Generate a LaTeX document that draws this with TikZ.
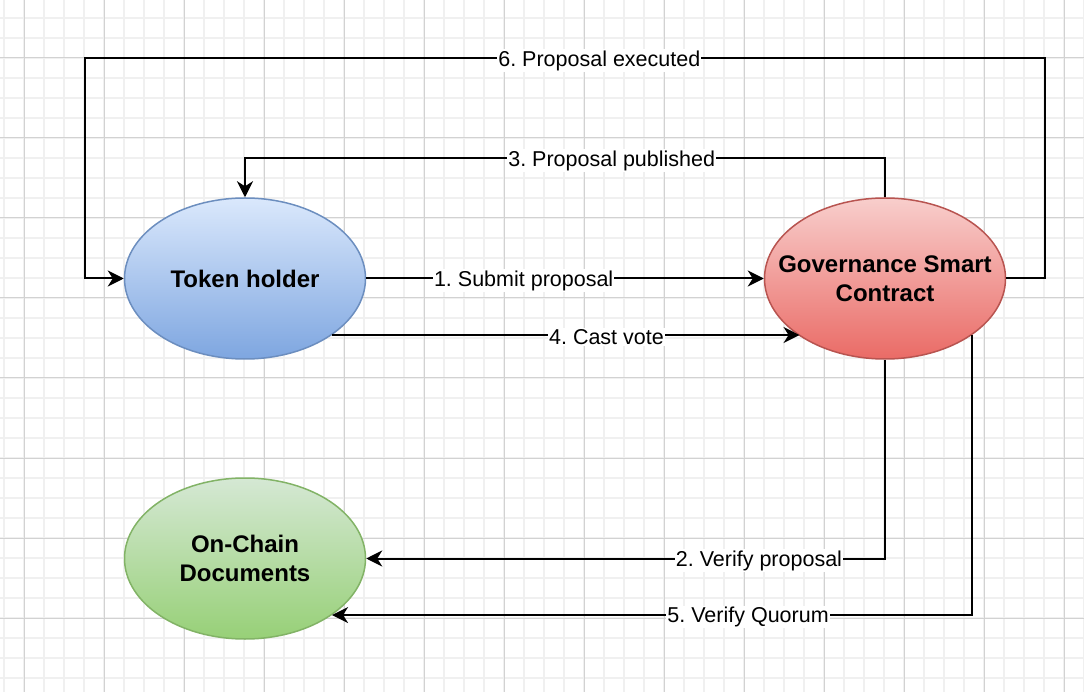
\documentclass[tikz,border=0pt]{standalone}
\usepackage{fontspec}
\setmainfont{Liberation Sans}
\usetikzlibrary{arrows.meta,calc,shapes.geometric}
\definecolor{gridminor}{RGB}{240,240,240}
\definecolor{gridmajor}{RGB}{210,210,210}
\definecolor{blueTop}{HTML}{DAE8FC}
\definecolor{blueBot}{HTML}{7EA6E0}
\definecolor{blueLine}{HTML}{6C8EBF}
\definecolor{redTop}{HTML}{F8CECC}
\definecolor{redBot}{HTML}{EA6B66}
\definecolor{redLine}{HTML}{B85450}
\definecolor{greenTop}{HTML}{D5E8D4}
\definecolor{greenBot}{HTML}{97D077}
\definecolor{greenLine}{HTML}{82B366}
\frenchspacing
\begin{document}
\begin{tikzpicture}[x=1pt,y=-1pt,
  actor/.style={ellipse, minimum width=241pt, minimum height=161pt, inner sep=0pt,
    inner xsep=-30pt,
    line width=1.5pt, font=\fontsize{24}{28.5}\selectfont\bfseries, align=center},
  conn/.style={line width=2pt, -{Stealth[length=16pt,width=16pt,inset=5pt]}},
  lbl/.style={fill=white, inner sep=1pt, yshift=-2pt, font=\fontsize{21.5}{25}\selectfont, text=black},
  minorline/.style={gridminor, line width=1.5pt},
  majorline/.style={gridmajor, line width=1pt}
]
\useasboundingbox[fill=white] (0,0) rectangle (1084,692);
% grid
\foreach \x in {4,24,...,1084} \draw[minorline] (\x,0) -- (\x,692);
\foreach \y in {-2,18,...,692} \draw[minorline] (0,\y) -- (1084,\y);
\foreach \x in {24,104,...,1084} \draw[majorline] (\x,0) -- (\x,692);
\foreach \y in {58,138,...,692} \draw[majorline] (0,\y) -- (1084,\y);

% nodes
\node[actor, draw=blueLine, top color=blueTop, bottom color=blueBot] (th) at (245,278.5) {Token holder};
\node[actor, draw=redLine, top color=redTop, bottom color=redBot] (gsc) at (885,278.5) {Governance Smart\\Contract};
\node[actor, draw=greenLine, top color=greenTop, bottom color=greenBot] (ocd) at (245,558.5) {On-Chain\\Documents};

% corner coordinates
\coordinate (c6a) at (1045,278.5);
\coordinate (c6b) at (1045,58.5);
\coordinate (c6c) at (84.5,58.5);
\coordinate (c6d) at (84.5,278.5);
\coordinate (c3a) at (885,158.5);
\coordinate (c3b) at (245,158.5);
\coordinate (c2a) at (885,558.5);
\coordinate (c4e) at (gsc.-146.6 |- th.-33.4);
\coordinate (c5a) at (gsc.-33.9 |- ocd.-33.4);

% connectors
\draw[conn] (gsc.east) -- (c6a) -- (c6b) -- node[lbl,pos=0.464]{6. Proposal executed} (c6c) -- (c6d) -- (th.west);
\draw[conn] (gsc.north) -- (c3a) -- node[lbl,pos=0.427]{3. Proposal published} (c3b) -- (th.north);
\draw[conn] (th.east) -- node[lbl,pos=0.396]{1. Submit proposal} (gsc.west);
\draw[conn] (th.-33.4) -- node[lbl,pos=0.587]{4. Cast vote} (c4e);
\draw[conn] (gsc.south) -- (c2a) -- node[lbl,pos=0.243]{2. Verify proposal} (ocd.east);
\draw[conn] (gsc.-33.9) -- (c5a) -- node[lbl,pos=0.350]{5. Verify Quorum} (ocd.-33.4);
\end{tikzpicture}
\end{document}
